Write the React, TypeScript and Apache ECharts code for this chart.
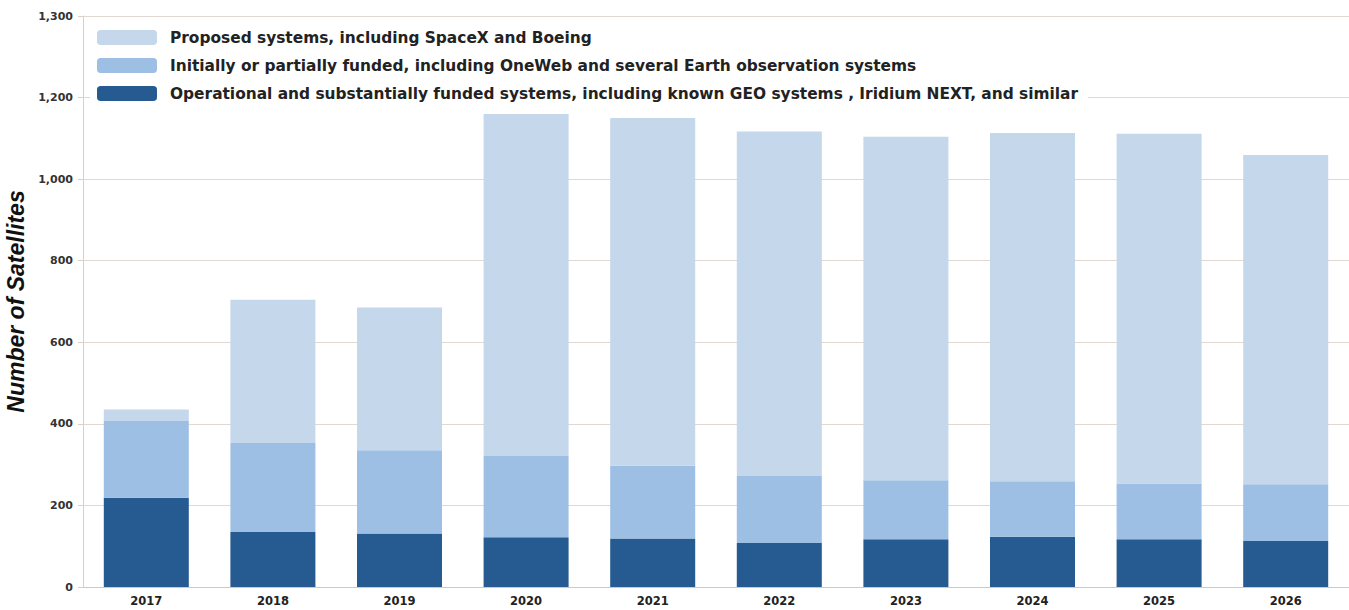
import React, { useEffect, useRef } from "react";
import * as echarts from "echarts";

const years = ["2017", "2018", "2019", "2020", "2021", "2022", "2023", "2024", "2025", "2026"];
const operational = [219, 135, 131, 122, 119, 108, 117, 123, 117, 113];
const partiallyFunded = [188, 218, 204, 199, 178, 164, 145, 136, 137, 139];
const proposed = [28, 351, 350, 839, 853, 845, 842, 854, 857, 807];

const seriesNames = [
  "Proposed systems, including SpaceX and Boeing",
  "Initially or partially funded, including OneWeb and several Earth observation systems",
  "Operational and substantially funded systems, including known GEO systems , Iridium NEXT, and similar",
];
const colors = ["#c4d7eb", "#9dbfe3", "#265b91"];

export default function App() {
  const ref = useRef<HTMLDivElement>(null);
  useEffect(() => {
    if (!ref.current) return;
    const chart = echarts.init(ref.current, undefined, { renderer: "svg" });
    const font = "'DejaVu Sans', Arial, Helvetica, sans-serif";
    const titleFont = "'Liberation Sans', Arial, Helvetica, sans-serif";
    chart.setOption({
      animation: false,
      backgroundColor: "#ffffff",
      textStyle: { fontFamily: font },
      grid: { left: 83, right: 0, top: 16, bottom: 23, containLabel: false, outerBoundsMode: "none" },
      legend: {
        orient: "vertical",
        left: 90,
        top: 25,
        padding: [5, 10, 5, 7],
        backgroundColor: "#ffffff",
        itemWidth: 60,
        itemHeight: 15,
        itemGap: 13,
        data: seriesNames,
        textStyle: { fontSize: 15.4, fontWeight: "bold", color: "#222", fontFamily: font, padding: [0, 0, 0, 8] },
      },
      xAxis: {
        type: "category",
        data: years,
        axisLine: { show: true, lineStyle: { color: "#cfc8c4", width: 1 } },
        axisTick: { show: false },
        axisLabel: { fontSize: 11.5, fontWeight: "bold", color: "#222", margin: 8, fontFamily: font },
      },
      yAxis: {
        type: "value",
        min: 0,
        max: 1400,
        interval: 200,
        name: "Number of Satellites",
        nameLocation: "middle",
        nameGap: 56,
        nameRotate: 90,
        nameTextStyle: { fontSize: 23, fontWeight: "bold", fontStyle: "italic", color: "#111", fontFamily: titleFont },
        axisLine: { show: true, lineStyle: { color: "#d8d0cc", width: 1 } },
        axisTick: { show: true, length: 5, lineStyle: { color: "#d8d0cc" } },
        splitLine: { show: true, lineStyle: { color: "#e2d8d2", width: 1 } },
        axisLabel: {
          fontSize: 11,
          fontWeight: "bold",
          color: "#333",
          margin: 10,
          fontFamily: font,
          formatter: (v: number) => (v === 1400 ? "1,300" : v.toLocaleString("en-US")),
        },
      },
      series: [
        { name: seriesNames[2], type: "bar", stack: "s", data: operational, barWidth: 85, itemStyle: { color: colors[2] } },
        { name: seriesNames[1], type: "bar", stack: "s", data: partiallyFunded, barWidth: 85, itemStyle: { color: colors[1] } },
        { name: seriesNames[0], type: "bar", stack: "s", data: proposed, barWidth: 85, itemStyle: { color: colors[0] } },
      ],
    });
    return () => chart.dispose();
  }, []);
  return <div ref={ref} style={{ position: "fixed", left: 0, top: 0, width: 1349, height: 610 }} />;
}
